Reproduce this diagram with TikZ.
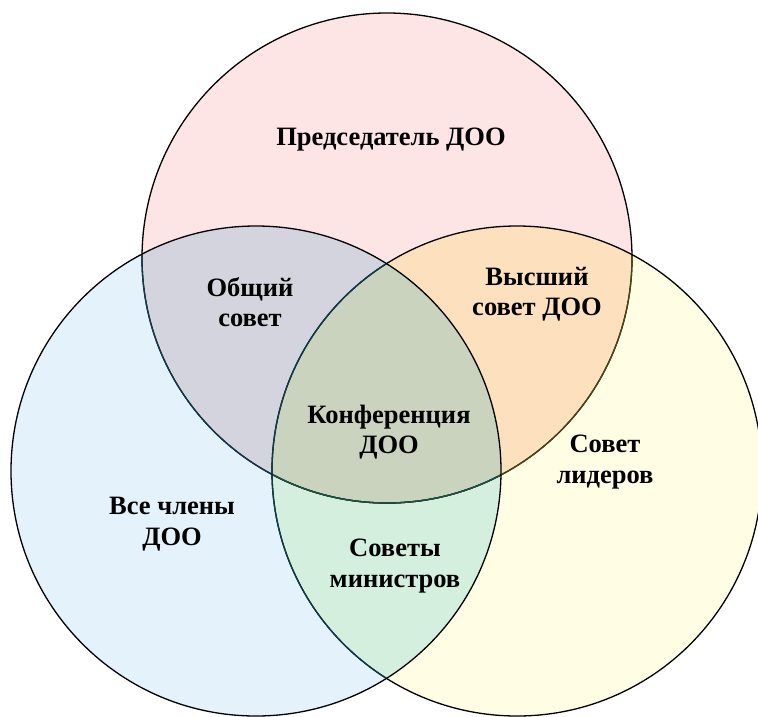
\documentclass[tikz,border=0pt]{standalone}
\usepackage{fontspec}
\setmainfont{Liberation Serif}
\definecolor{cpink}{HTML}{FDE4E5}
\definecolor{cblue}{HTML}{E4F3FB}
\definecolor{cyellow}{HTML}{FFFEE5}
\definecolor{cgray}{HTML}{D4D4DE}
\definecolor{corange}{HTML}{FDE0BD}
\definecolor{cgreen}{HTML}{D5EFDF}
\definecolor{ccenter}{HTML}{C9D3BD}
\definecolor{lteal}{HTML}{0E3A4E}
\definecolor{lolive}{HTML}{4A4812}
\definecolor{lgreen}{HTML}{1E5040}
\tikzset{
  lbl/.style={font=\fontsize{26.5}{30.5}\selectfont\bfseries, align=center, text=black, inner sep=0pt},
  ring/.style={line width=1.3pt}
}
\begin{document}
\begin{tikzpicture}[x=1pt,y=-1pt]
\useasboundingbox (0,0) rectangle (758,716);
\def\R{245}
\coordinate (T) at (387,258);
\coordinate (L) at (256,471);
\coordinate (Rc) at (517,471);
% base fills
\fill[cpink] (T) circle (\R);
\fill[cyellow] (Rc) circle (\R);
\fill[cblue] (L) circle (\R);
% overlaps
\begin{scope}\clip (T) circle (\R); \fill[cgray] (L) circle (\R); \end{scope}
\begin{scope}\clip (T) circle (\R); \fill[corange] (Rc) circle (\R); \end{scope}
\begin{scope}\clip (L) circle (\R); \fill[cgreen] (Rc) circle (\R); \end{scope}
\begin{scope}\clip (T) circle (\R); \clip (L) circle (\R); \fill[ccenter] (Rc) circle (\R); \end{scope}
% outlines
\draw[ring,black] (T) circle (\R);
\begin{scope}\clip (Rc) circle (\R); \draw[ring,lolive] (T) circle (\R); \end{scope}
\begin{scope}\clip (L) circle (\R); \draw[ring,lteal] (T) circle (\R); \end{scope}
\begin{scope}\clip (L) circle (\R); \clip (Rc) circle (\R); \draw[ring,lgreen] (T) circle (\R); \end{scope}
\draw[ring,black] (Rc) circle (\R);
\begin{scope}\clip (L) circle (\R); \draw[ring,lteal] (Rc) circle (\R); \end{scope}
\draw[ring,black] (L) circle (\R);
% labels
\node[lbl] (pred) at (391,140) {Председатель ДОО};
\node[lbl] (obsh) at (250,302) {Общий\\совет};
\node[lbl] (vys) at (537,294) {Высший\\совет ДОО};
\node[lbl] (konf) at (389,432) {Конференция\\ДОО};
\node[lbl] (lid) at (605,462) {Совет\\лидеров};
\node[lbl] (vse) at (172,524) {Все члены\\ДОО};
\node[lbl] (min) at (395,566) {Советы\\министров};
\end{tikzpicture}
\end{document}
